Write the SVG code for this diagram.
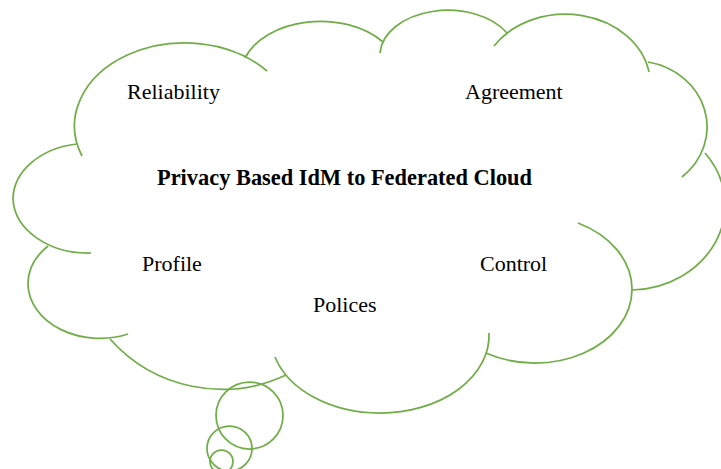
<svg xmlns="http://www.w3.org/2000/svg" width="721" height="469" viewBox="0 0 721 469">
  <style>
    .lobe { fill: none; stroke: #70AD47; stroke-width: 1.75; stroke-linecap: butt; }
    .lbl { font-family: "Liberation Serif", "Times New Roman", serif; font-size: 22px; fill: #000; }
    .title { font-weight: bold; font-size: 22.4px; }
  </style>
  <rect width="721" height="469" fill="#ffffff"/>
  <g id="cloud">
    <path class="lobe" d="M82,156 A110,83 0 0,1 267,71"/>
    <path class="lobe" d="M245,58 A80,55 0 0,1 383,42"/>
    <path class="lobe" d="M380,53 A68,45 0 0,1 507,33"/>
    <path class="lobe" d="M494,46 A85,70 0 0,1 649,72"/>
    <path class="lobe" d="M648,62 A72,66 0 0,1 682,177"/>
    <path class="lobe" d="M705,153 A96,85 0 0,1 632,290"/>
    <path class="lobe" d="M578,223 A97,74 0 0,1 632,289 A97,74 0 0,1 486,353"/>
    <path class="lobe" d="M275,357 A109,77.5 0 0,0 380,413 A109,77.5 0 0,0 489,333"/>
    <path class="lobe" d="M110,339 A150,150 0 0,0 286,375"/>
    <path class="lobe" d="M48,246 A72,55 0 0,0 28,285 A72,55 0 0,0 128,334"/>
    <path class="lobe" d="M77,144 A75,56 0 0,0 13,199 A75,56 0 0,0 91,253"/>
  </g>
  <g id="bubbles">
    <circle class="lobe" cx="249.5" cy="415.5" r="33.5"/>
    <circle class="lobe" cx="229.5" cy="448.5" r="22.5"/>
    <circle class="lobe" cx="221.5" cy="461.5" r="11.5"/>
  </g>
  <g id="title"><text class="lbl title" x="157" y="185">Privacy Based IdM to Federated Cloud</text></g>
  <g id="reliability"><text class="lbl" x="127" y="99">Reliability</text></g>
  <g id="agreement"><text class="lbl" x="465" y="99">Agreement</text></g>
  <g id="profile"><text class="lbl" x="142" y="271">Profile</text></g>
  <g id="control"><text class="lbl" x="480" y="271">Control</text></g>
  <g id="polices"><text class="lbl" x="313" y="312">Polices</text></g>
</svg>
